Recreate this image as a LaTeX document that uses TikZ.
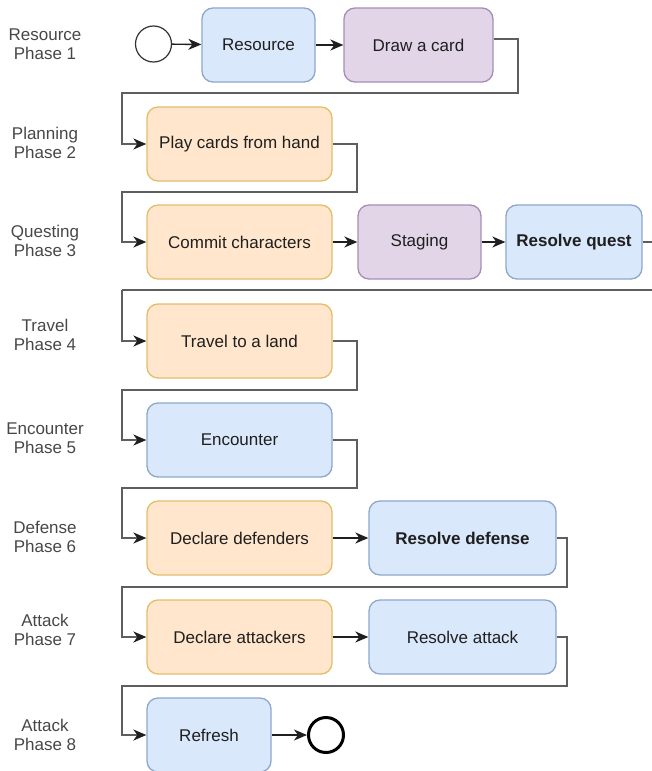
\documentclass[tikz,border=0pt]{standalone}
\usepackage{fontspec}
\setmainfont{Liberation Sans}
\usetikzlibrary{arrows.meta,calc}
\definecolor{bluefill}{HTML}{DAE8FC}
\definecolor{blueline}{HTML}{8FA6CC}
\definecolor{orangefill}{HTML}{FFE6CC}
\definecolor{orangeline}{HTML}{E2BE6A}
\definecolor{purplefill}{HTML}{E1D5E7}
\definecolor{purpleline}{HTML}{A68DB6}
\definecolor{wire}{HTML}{5E5E5E}
\begin{document}
\begin{tikzpicture}[x=1pt,y=-1pt,
  box/.style={draw, rounded corners=11pt, line width=1.3pt, minimum height=74pt,
    inner sep=0pt, font=\fontsize{17}{19}\selectfont, text=black!88},
  bluebox/.style={box, fill=bluefill, draw=blueline},
  orangebox/.style={box, fill=orangefill, draw=orangeline},
  purplebox/.style={box, fill=purplefill, draw=purpleline},
  phase/.style={align=center, inner sep=0pt, font=\fontsize{17}{19}\selectfont, text=black!72},
  flow/.style={-{Stealth[length=13pt,width=11pt,inset=4pt]}, line width=1.4pt, draw=black!88},
  wrap/.style={-{Stealth[length=13pt,width=11pt,inset=4pt,color=black!88]}, line width=2pt, draw=wire},
  wrapline/.style={line width=2pt, draw=wire}
]
\path[use as bounding box] (0,0) rectangle (652,771);
\clip (0,0) rectangle (652,771);

% phase labels
\node[phase] (l1) at (45,44) {Resource\\Phase 1};
\node[phase] (l2) at (45,143) {Planning\\Phase 2};
\node[phase] (l3) at (45,241) {Questing\\Phase 3};
\node[phase] (l4) at (45,335) {Travel\\Phase 4};
\node[phase] (l5) at (45,438) {Encounter\\Phase 5};
\node[phase] (l6) at (45,537) {Defense\\Phase 6};
\node[phase] (l7) at (45,630) {Attack\\Phase 7};
\node[phase] (l8) at (45,735) {Attack\\Phase 8};

% row 1
\node[circle, draw=black!80, line width=1.2pt, minimum size=36pt, inner sep=0pt] (start) at (153.5,44) {};
\node[bluebox, minimum width=113pt] (res) at (258.5,45) {Resource};
\node[purplebox, minimum width=149pt] (dc) at (418.5,45) {Draw a card};
% row 2
\node[orangebox, minimum width=185pt] (play) at (239.5,144) {Play cards from hand};
% row 3
\node[orangebox, minimum width=185pt] (commit) at (239.5,242) {Commit characters};
\node[purplebox, minimum width=123pt] (stag) at (419.5,242) {Staging};
\node[bluebox, minimum width=136pt] (rq) at (574,242) {\bfseries Resolve quest};
% row 4
\node[orangebox, minimum width=185pt] (travel) at (239.5,341) {Travel to a land};
% row 5
\node[bluebox, minimum width=185pt] (enc) at (239.5,440) {Encounter};
% row 6
\node[orangebox, minimum width=185pt] (dd) at (239.5,538) {Declare defenders};
\node[bluebox, minimum width=187pt] (rd) at (462.5,538) {\bfseries Resolve defense};
% row 7
\node[orangebox, minimum width=185pt] (da) at (239.5,637) {Declare attackers};
\node[bluebox, minimum width=187pt] (ra) at (462.5,637) {Resolve attack};
% row 8
\node[bluebox, minimum width=124pt] (ref) at (209,735) {Refresh};
\node[circle, draw=black, line width=3pt, minimum size=35pt, inner sep=0pt] (end) at (326,735) {};

% straight flows
\draw[flow] (start) -- (res);
\draw[flow] (res) -- (dc);
\draw[flow] (commit) -- (stag);
\draw[flow] (stag) -- (rq);
\draw[flow] (dd) -- (rd);
\draw[flow] (da) -- (ra);
\draw[flow] (ref) -- (end);

% wrapping connectors
\draw[wrap] ([yshift=6pt]dc.east) -| (518,93) -| (122,144) -- (play.west);
\draw[wrap] (play.east) -| (357,192) -| (122,242) -- (commit.west);
\draw[wrapline] (rq.east) -- (672,242) |- (122,290);
\draw[wrap] (122,290) |- (travel.west);
\draw[wrap] (travel.east) -| (357,390) -| (122,440) -- (enc.west);
\draw[wrap] (enc.east) -| (357,488) -| (122,538) -- (dd.west);
\draw[wrap] (rd.east) -| (567,587) -| (122,637) -- (da.west);
\draw[wrap] (ra.east) -| (567,686) -| (122,735) -- (ref.west);
\end{tikzpicture}
\end{document}
